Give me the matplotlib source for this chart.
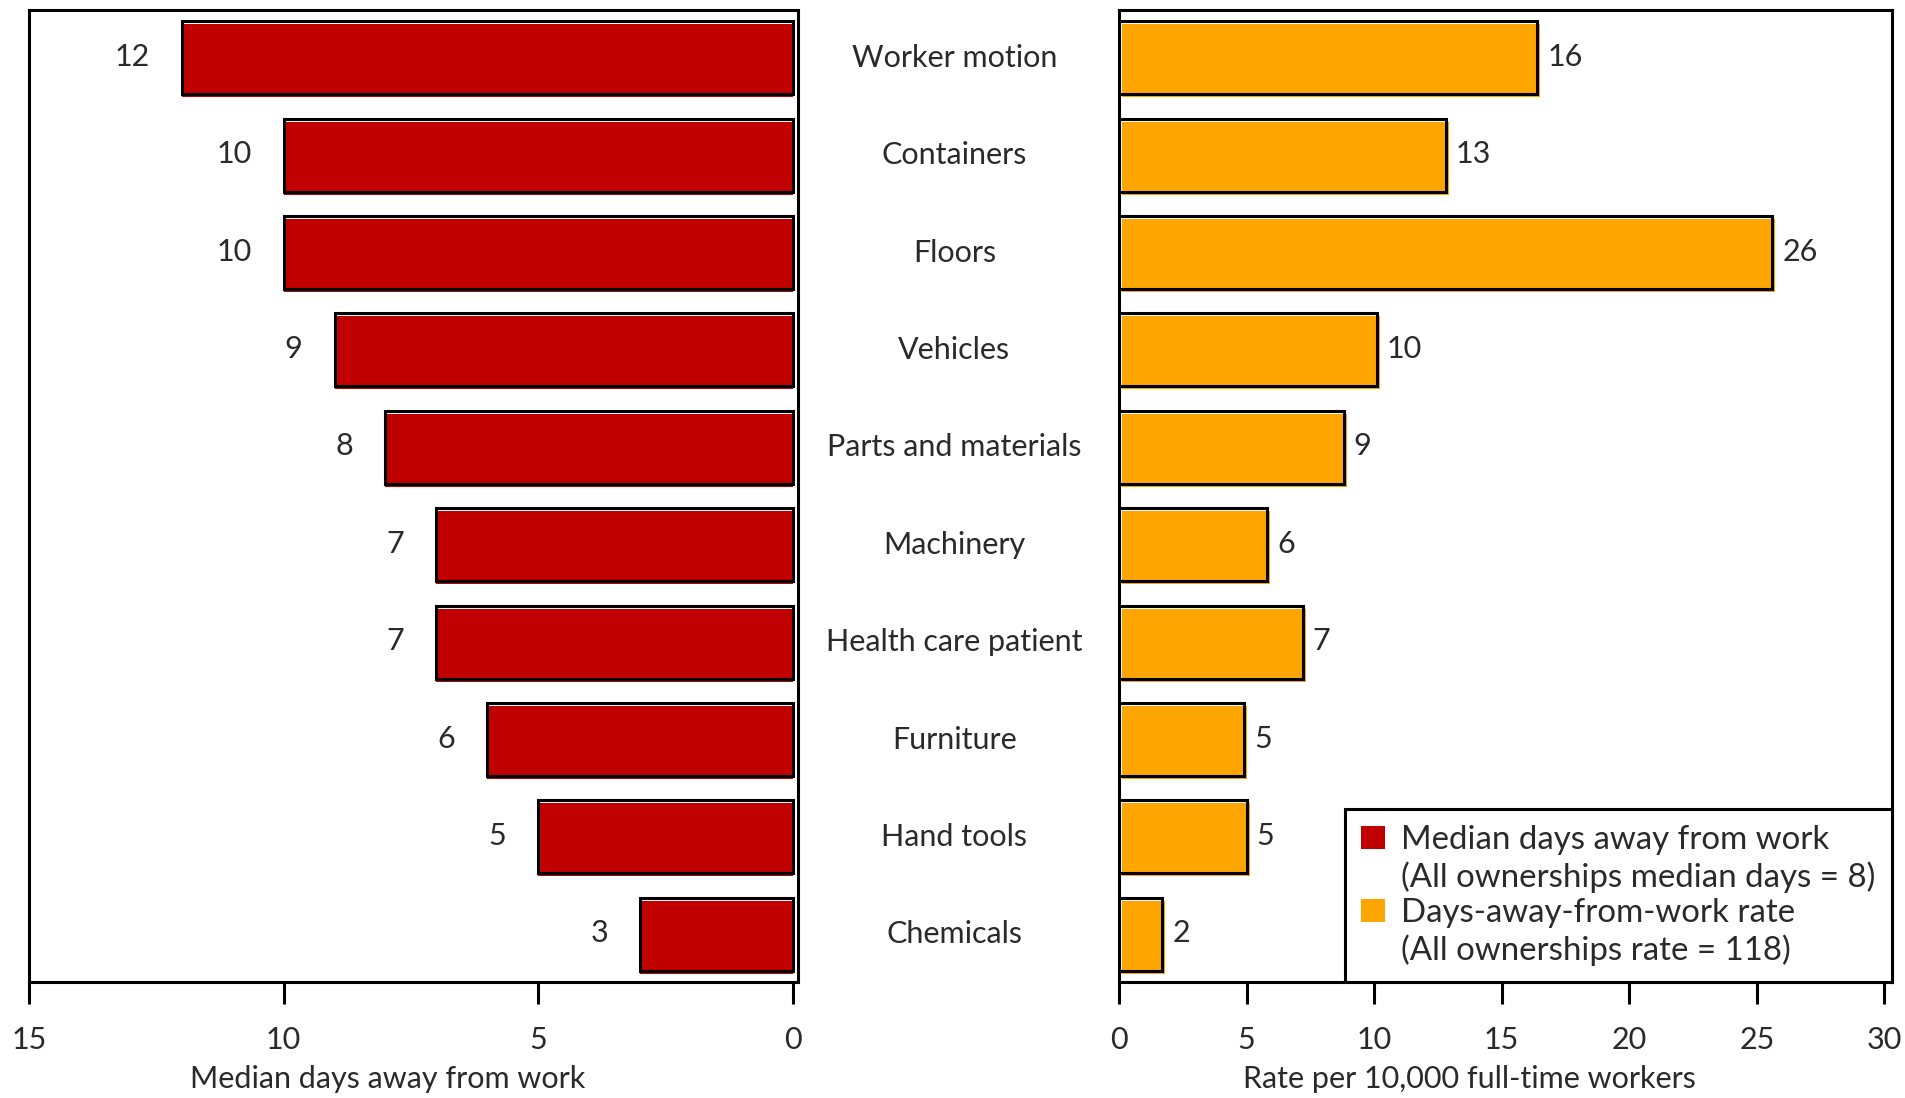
import matplotlib
matplotlib.use("Agg")
import matplotlib.pyplot as plt
from matplotlib.patches import Patch
from matplotlib.transforms import blended_transform_factory, offset_copy

plt.rcParams["font.family"] = ["Lato", "DejaVu Sans"]

# データ
categories = [
    "Worker motion",
    "Containers",
    "Floors",
    "Vehicles",
    "Parts and materials",
    "Machinery",
    "Health care patient",
    "Furniture",
    "Hand tools",
    "Chemicals",
]
median_days = [12, 10, 10, 9, 8, 7, 7, 6, 5, 3]
rates = [16.4, 12.8, 25.6, 10.1, 8.8, 5.8, 7.2, 4.9, 5.0, 1.7]
rate_labels = [16, 13, 26, 10, 9, 6, 7, 5, 5, 2]
left_ticks = [15, 10, 5, 0]
right_ticks = [0, 5, 10, 15, 20, 25, 30]
legend_labels = [
    "Median days away from work",
    "(All ownerships median days = 8)",
    "Days-away-from-work rate",
    "(All ownerships rate = 118)",
]

RED = "#C00000"
ORANGE = "#FFA500"
TEXT = "#2a2a2a"
FS = 22
LW = 2.2


def style_axis(ax, ticks):
    ax.set_ylim(len(categories) - 0.51, -0.49)
    ax.set_yticks([])
    ax.set_xticks(ticks)
    ax.tick_params(axis="x", direction="out", length=16, width=LW,
                   pad=16, labelsize=FS, labelcolor=TEXT)
    for sp in ax.spines.values():
        sp.set_linewidth(LW)
        sp.set_color("black")


def draw_bars(fig, ax, y, vals, color, dx, dy):
    # 塗りを少しずらして枠線と重ねる（印刷ずれ風）
    fills = ax.barh(y, vals, height=0.75, color=color, linewidth=0)
    tr = offset_copy(ax.transData, fig=fig, x=dx, y=dy, units="dots")
    for p in fills:
        p.set_transform(tr)
    ax.barh(y, vals, height=0.75, facecolor="none", edgecolor="black",
            linewidth=LW)


fig = plt.figure(figsize=(19.05, 10.98), dpi=100)
ax1 = fig.add_axes([0.0152, 0.1056, 0.4037, 0.8853])
ax2 = fig.add_axes([0.5874, 0.1056, 0.4058, 0.8853])

y = list(range(len(categories)))

# 左: 中央値日数
draw_bars(fig, ax1, y, median_days, RED, 0, -3)
ax1.set_xlim(15, -0.1)
style_axis(ax1, left_ticks)
for i, v in enumerate(median_days):
    ax1.annotate(str(v), xy=(v, i), xytext=(-32, 1), textcoords="offset pixels",
                 ha="right", va="center", fontsize=FS, color=TEXT)
ax1.set_xlabel("Median days away from work", fontsize=FS, color=TEXT)
ax1.xaxis.set_label_coords(0.466, -0.085)

# 右: 発生率
draw_bars(fig, ax2, y, rates, ORANGE, 3, -3)
ax2.set_xlim(0, 30.3)
style_axis(ax2, right_ticks)
for i, (v, lab) in enumerate(zip(rates, rate_labels)):
    ax2.annotate(str(lab), xy=(v, i), xytext=(10, 1), textcoords="offset pixels",
                 ha="left", va="center", fontsize=FS, color=TEXT)
ax2.set_xlabel("Rate per 10,000 full-time workers", fontsize=FS, color=TEXT)
ax2.xaxis.set_label_coords(0.453, -0.085)

# カテゴリ名 (中央)
trans = blended_transform_factory(fig.transFigure, ax2.transData)
for i, c in enumerate(categories):
    ax2.text(0.501, i, c, transform=trans, ha="center", va="center",
             fontsize=FS, color=TEXT, clip_on=False)

# 凡例
blank = Patch(facecolor="none", edgecolor="none")
handles = [Patch(facecolor=RED), blank, Patch(facecolor=ORANGE), blank]
leg = ax2.legend(handles, legend_labels, loc="lower right", bbox_to_anchor=(1, 0),
                 borderaxespad=0, frameon=True, fancybox=False, framealpha=1,
                 edgecolor="black", fontsize=23.8, handlelength=0.7,
                 handleheight=0.7, handletextpad=0.5, labelspacing=0.17,
                 borderpad=0.5, labelcolor=TEXT)
leg.get_frame().set_linewidth(LW)

plt.savefig("out.png", dpi=100)
plt.close()
